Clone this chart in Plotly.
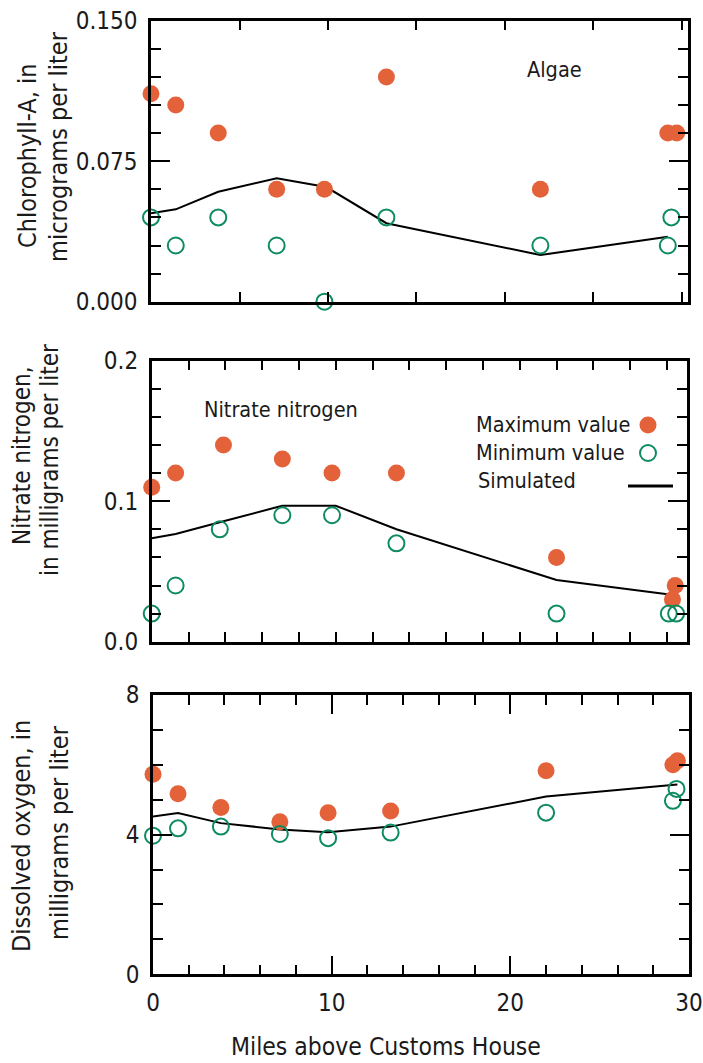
import plotly.graph_objects as go

# ---- Chlorophyll-A (algae) ----
chl_max_miles = [0, 1.4, 3.8, 7.1, 9.8, 13.3, 22.0, 29.2, 29.7]
chl_max = [0.111, 0.105, 0.090, 0.060, 0.060, 0.120, 0.060, 0.090, 0.090]
chl_min_miles = [0, 1.4, 3.8, 7.1, 9.8, 13.3, 22.0, 29.4, 29.2]
chl_min = [0.045, 0.030, 0.045, 0.030, 0.000, 0.045, 0.030, 0.045, 0.030]
chl_sim_miles = [0, 1.4, 3.8, 7.1, 9.9, 13.3, 22.0, 29.2]
chl_sim = [0.0472, 0.0493, 0.0587, 0.0659, 0.0612, 0.0419, 0.0249, 0.0347]

# ---- Nitrate nitrogen ----
no3_max_miles = [0, 1.3, 3.9, 7.1, 9.8, 13.3, 22.0, 28.3, 28.45]
no3_max = [0.11, 0.12, 0.14, 0.13, 0.12, 0.12, 0.06, 0.03, 0.04]
no3_min_miles = [0, 1.3, 3.7, 7.1, 9.8, 13.3, 22.0, 28.1, 28.5]
no3_min = [0.02, 0.04, 0.08, 0.09, 0.09, 0.07, 0.02, 0.02, 0.02]
no3_sim_miles = [0, 1.3, 3.9, 7.1, 10.0, 13.3, 22.0, 28.35]
no3_sim = [0.0736, 0.0767, 0.0857, 0.0968, 0.0968, 0.0800, 0.0439, 0.0332]

# ---- Dissolved oxygen ----
do_max_miles = [0, 1.4, 3.8, 7.1, 9.8, 13.3, 22.0, 29.1, 29.35]
do_max = [5.73, 5.17, 4.78, 4.37, 4.63, 4.68, 5.83, 6.00, 6.12]
do_min_miles = [0, 1.4, 3.8, 7.1, 9.8, 13.3, 22.0, 29.1, 29.3]
do_min = [3.97, 4.18, 4.23, 4.02, 3.90, 4.06, 4.63, 4.97, 5.31]
do_sim_miles = [0, 1.4, 3.8, 7.1, 9.8, 13.3, 22.0, 29.35]
do_sim = [4.52, 4.62, 4.33, 4.15, 4.07, 4.23, 5.09, 5.44]

x_tick_vals = [0, 10, 20, 30]
x_tick_text = ["0", "10", "20", "30"]

ORANGE = "#E3623A"
GREEN = "#0E8B5F"
INK = "#1a1a1a"
FONT = "Liberation Sans Narrow, DejaVu Sans Condensed, Arial Narrow, sans-serif"
W, H = 703, 1063


def px(x):
    return x / W


def py(y):
    return 1 - y / H


fig = go.Figure()

panels = [
    ("x3", "y3", chl_max_miles, chl_max, chl_min_miles, chl_min, chl_sim_miles, chl_sim),
    ("x2", "y2", no3_max_miles, no3_max, no3_min_miles, no3_min, no3_sim_miles, no3_sim),
    ("x", "y", do_max_miles, do_max, do_min_miles, do_min, do_sim_miles, do_sim),
]

for xa, ya, mx, my, nx, ny, sx, sy in panels:
    fig.add_trace(go.Scatter(x=sx, y=sy, xaxis=xa, yaxis=ya, mode="lines",
                             line=dict(color="black", width=2), cliponaxis=False,
                             showlegend=False, hoverinfo="skip"))
    fig.add_trace(go.Scatter(x=mx, y=my, xaxis=xa, yaxis=ya, mode="markers",
                             marker=dict(size=17, color=ORANGE, line=dict(width=0)),
                             cliponaxis=False, showlegend=False))
    fig.add_trace(go.Scatter(x=nx, y=ny, xaxis=xa, yaxis=ya, mode="markers",
                             marker=dict(size=16, color="rgba(0,0,0,0)",
                                         line=dict(color=GREEN, width=2)),
                             cliponaxis=False, showlegend=False))

common_axis = dict(showline=True, linecolor="black", linewidth=2.5, mirror="ticks",
                   ticks="inside", ticklen=19, tickwidth=2, tickcolor="black",
                   showgrid=False, zeroline=False, fixedrange=True, automargin=False,
                   tickfont=dict(family=FONT, size=24, color=INK))


def xaxis(domain, rng, minor_dtick, labels):
    d = dict(common_axis)
    d.update(domain=domain, range=rng, tickmode="array", tickvals=x_tick_vals,
             ticktext=x_tick_text if labels else [""] * 4,
             showticklabels=labels, ticklabelstandoff=5,
             minor=dict(dtick=minor_dtick, ticks="inside", ticklen=10, tickwidth=2,
                        tickcolor="black", showgrid=False))
    return d


def yaxis(domain, rng, dtick, minor_dtick, fmt):
    d = dict(common_axis)
    d.update(domain=domain, range=rng, dtick=dtick, tick0=0, tickformat=fmt,
             ticklabelstandoff=6,
             minor=dict(dtick=minor_dtick, ticks="inside", ticklen=10, tickwidth=2,
                        tickcolor="black", showgrid=False))
    return d


fig.update_layout(
    width=W, height=H, margin=dict(l=0, r=0, t=0, b=0, autoexpand=False),
    paper_bgcolor="white", plot_bgcolor="white", showlegend=False,
    font=dict(family=FONT, color=INK),
    xaxis3=xaxis([px(151), px(688)], [0, 30.34], 5, False),
    yaxis3=yaxis([py(301.7), py(20.7)], [0, 0.15], 0.075, 0.015, ".3f"),
    xaxis2=xaxis([px(151.7), px(687)], [0, 29.09], 2, False),
    yaxis2=yaxis([py(641.7), py(360.7)], [0, 0.2], 0.1, 0.02, ".1f"),
    xaxis=xaxis([px(153), px(689)], [0, 30], 2, True),
    yaxis=yaxis([py(974.3), py(695)], [0, 8], 4, 1, "d"),
)
fig.layout.xaxis3.anchor = "y3"
fig.layout.yaxis3.anchor = "x3"
fig.layout.xaxis2.anchor = "y2"
fig.layout.yaxis2.anchor = "x2"


def note(text, x, y, size, angle=0, xanchor="center"):
    fig.add_annotation(text=text, x=px(x), y=py(y), xref="paper", yref="paper",
                       showarrow=False, textangle=angle, xanchor=xanchor,
                       yanchor="middle", font=dict(family=FONT, size=size, color=INK))


# axis titles
note("Chlorophyll-A, in", 27, 156, 25, -90)
note("micrograms per liter", 58, 147, 25, -90)
note("Nitrate nitrogen,", 22, 456, 24, -90)
note("in milligrams per liter", 50, 460, 24, -90)
note("Dissolved oxygen, in", 21, 836, 25, -90)
note("milligrams per liter", 59, 833, 25, -90)
note("Miles above Customs House", 386, 1046, 24.5)

# panel labels
note("Algae", 554, 69, 21.5)
note("Nitrate nitrogen", 281, 409, 21.5)

# key
note("Maximum value", 474, 424, 21.5, xanchor="left")
note("Minimum value", 474, 452, 21.5, xanchor="left")
note("Simulated", 476, 480, 21.5, xanchor="left")
fig.add_shape(type="circle", xref="paper", yref="paper", xsizemode="pixel", ysizemode="pixel",
              xanchor=px(648), yanchor=py(425), x0=-8.5, x1=8.5, y0=-8.5, y1=8.5,
              fillcolor=ORANGE, line=dict(width=0))
fig.add_shape(type="circle", xref="paper", yref="paper", xsizemode="pixel", ysizemode="pixel",
              xanchor=px(648), yanchor=py(453), x0=-8, x1=8, y0=-8, y1=8,
              fillcolor="rgba(0,0,0,0)", line=dict(color=GREEN, width=2))
fig.add_shape(type="line", xref="paper", yref="paper",
              x0=px(628), x1=px(673), y0=py(486), y1=py(486),
              line=dict(color="black", width=3))

fig.write_html("out.html")
